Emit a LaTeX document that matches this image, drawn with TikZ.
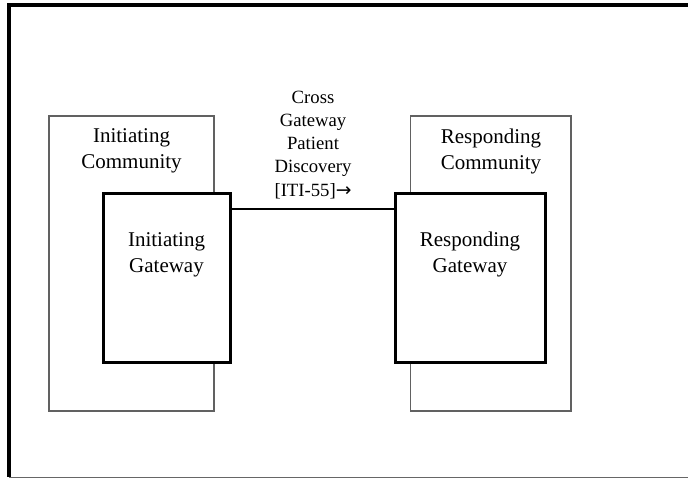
\documentclass[tikz,border=0pt]{standalone}
\usepackage{fontspec}
\setmainfont{Liberation Serif}
\newfontfamily\arrowfont{DejaVu Sans}
\begin{document}
\begin{tikzpicture}[x=1pt,y=-1pt,
  community/.style={draw=black!62, line width=1.2pt, fill=white, inner sep=0pt, outer sep=0pt, anchor=north west},
  gateway/.style={draw=black, line width=3pt, fill=white, inner sep=0pt, outer sep=0pt, anchor=north west},
  boxtext/.style={inner sep=0pt, anchor=base, font=\fontsize{21}{26}\selectfont},
  labeltext/.style={inner sep=0pt, anchor=base, font=\fontsize{18.7}{23.3}\selectfont},
  link/.style={draw=black, line width=2pt}]
\useasboundingbox (0,0) rectangle (688,479);
% slide frame
\draw[line width=4pt] (7,5) -- (688,5);
\draw[line width=4pt] (9.2,3) -- (9.2,477);
\draw[black!60, line width=1.3pt] (9.2,477.6) -- (688,477.6);
% communities
\node[community, minimum width=165pt, minimum height=295pt] (ic) at (49,116) {};
\node[community, minimum width=160.5pt, minimum height=295pt] (rc) at (410.5,116) {};
\node[boxtext] (ict) at (131.5,142.5) {\begin{tabular}[t]{@{}c@{}}Initiating\\Community\end{tabular}};
\node[boxtext] (rct) at (491,143) {\begin{tabular}[t]{@{}c@{}}Responding\\Community\end{tabular}};
% gateways
\node[gateway, minimum width=127pt, minimum height=169.5pt] (ig) at (103,193) {};
\node[gateway, minimum width=150pt, minimum height=169.5pt] (rg) at (395,193) {};
\node[boxtext] (igt) at (166.5,246) {\begin{tabular}[t]{@{}c@{}}Initiating\\Gateway\end{tabular}};
\node[boxtext] (rgt) at (470,246) {\begin{tabular}[t]{@{}c@{}}Responding\\Gateway\end{tabular}};
% connector
\draw[link] ([yshift=-16.3pt]ig.north east) -- ([yshift=-16.3pt]rg.north west);
\node[labeltext] (lbl) at (313,103) {\begin{tabular}[t]{@{}c@{}}Cross\\Gateway\\Patient\\Discovery\\{[ITI-55]}{\arrowfont →}\end{tabular}};
\end{tikzpicture}
\end{document}
